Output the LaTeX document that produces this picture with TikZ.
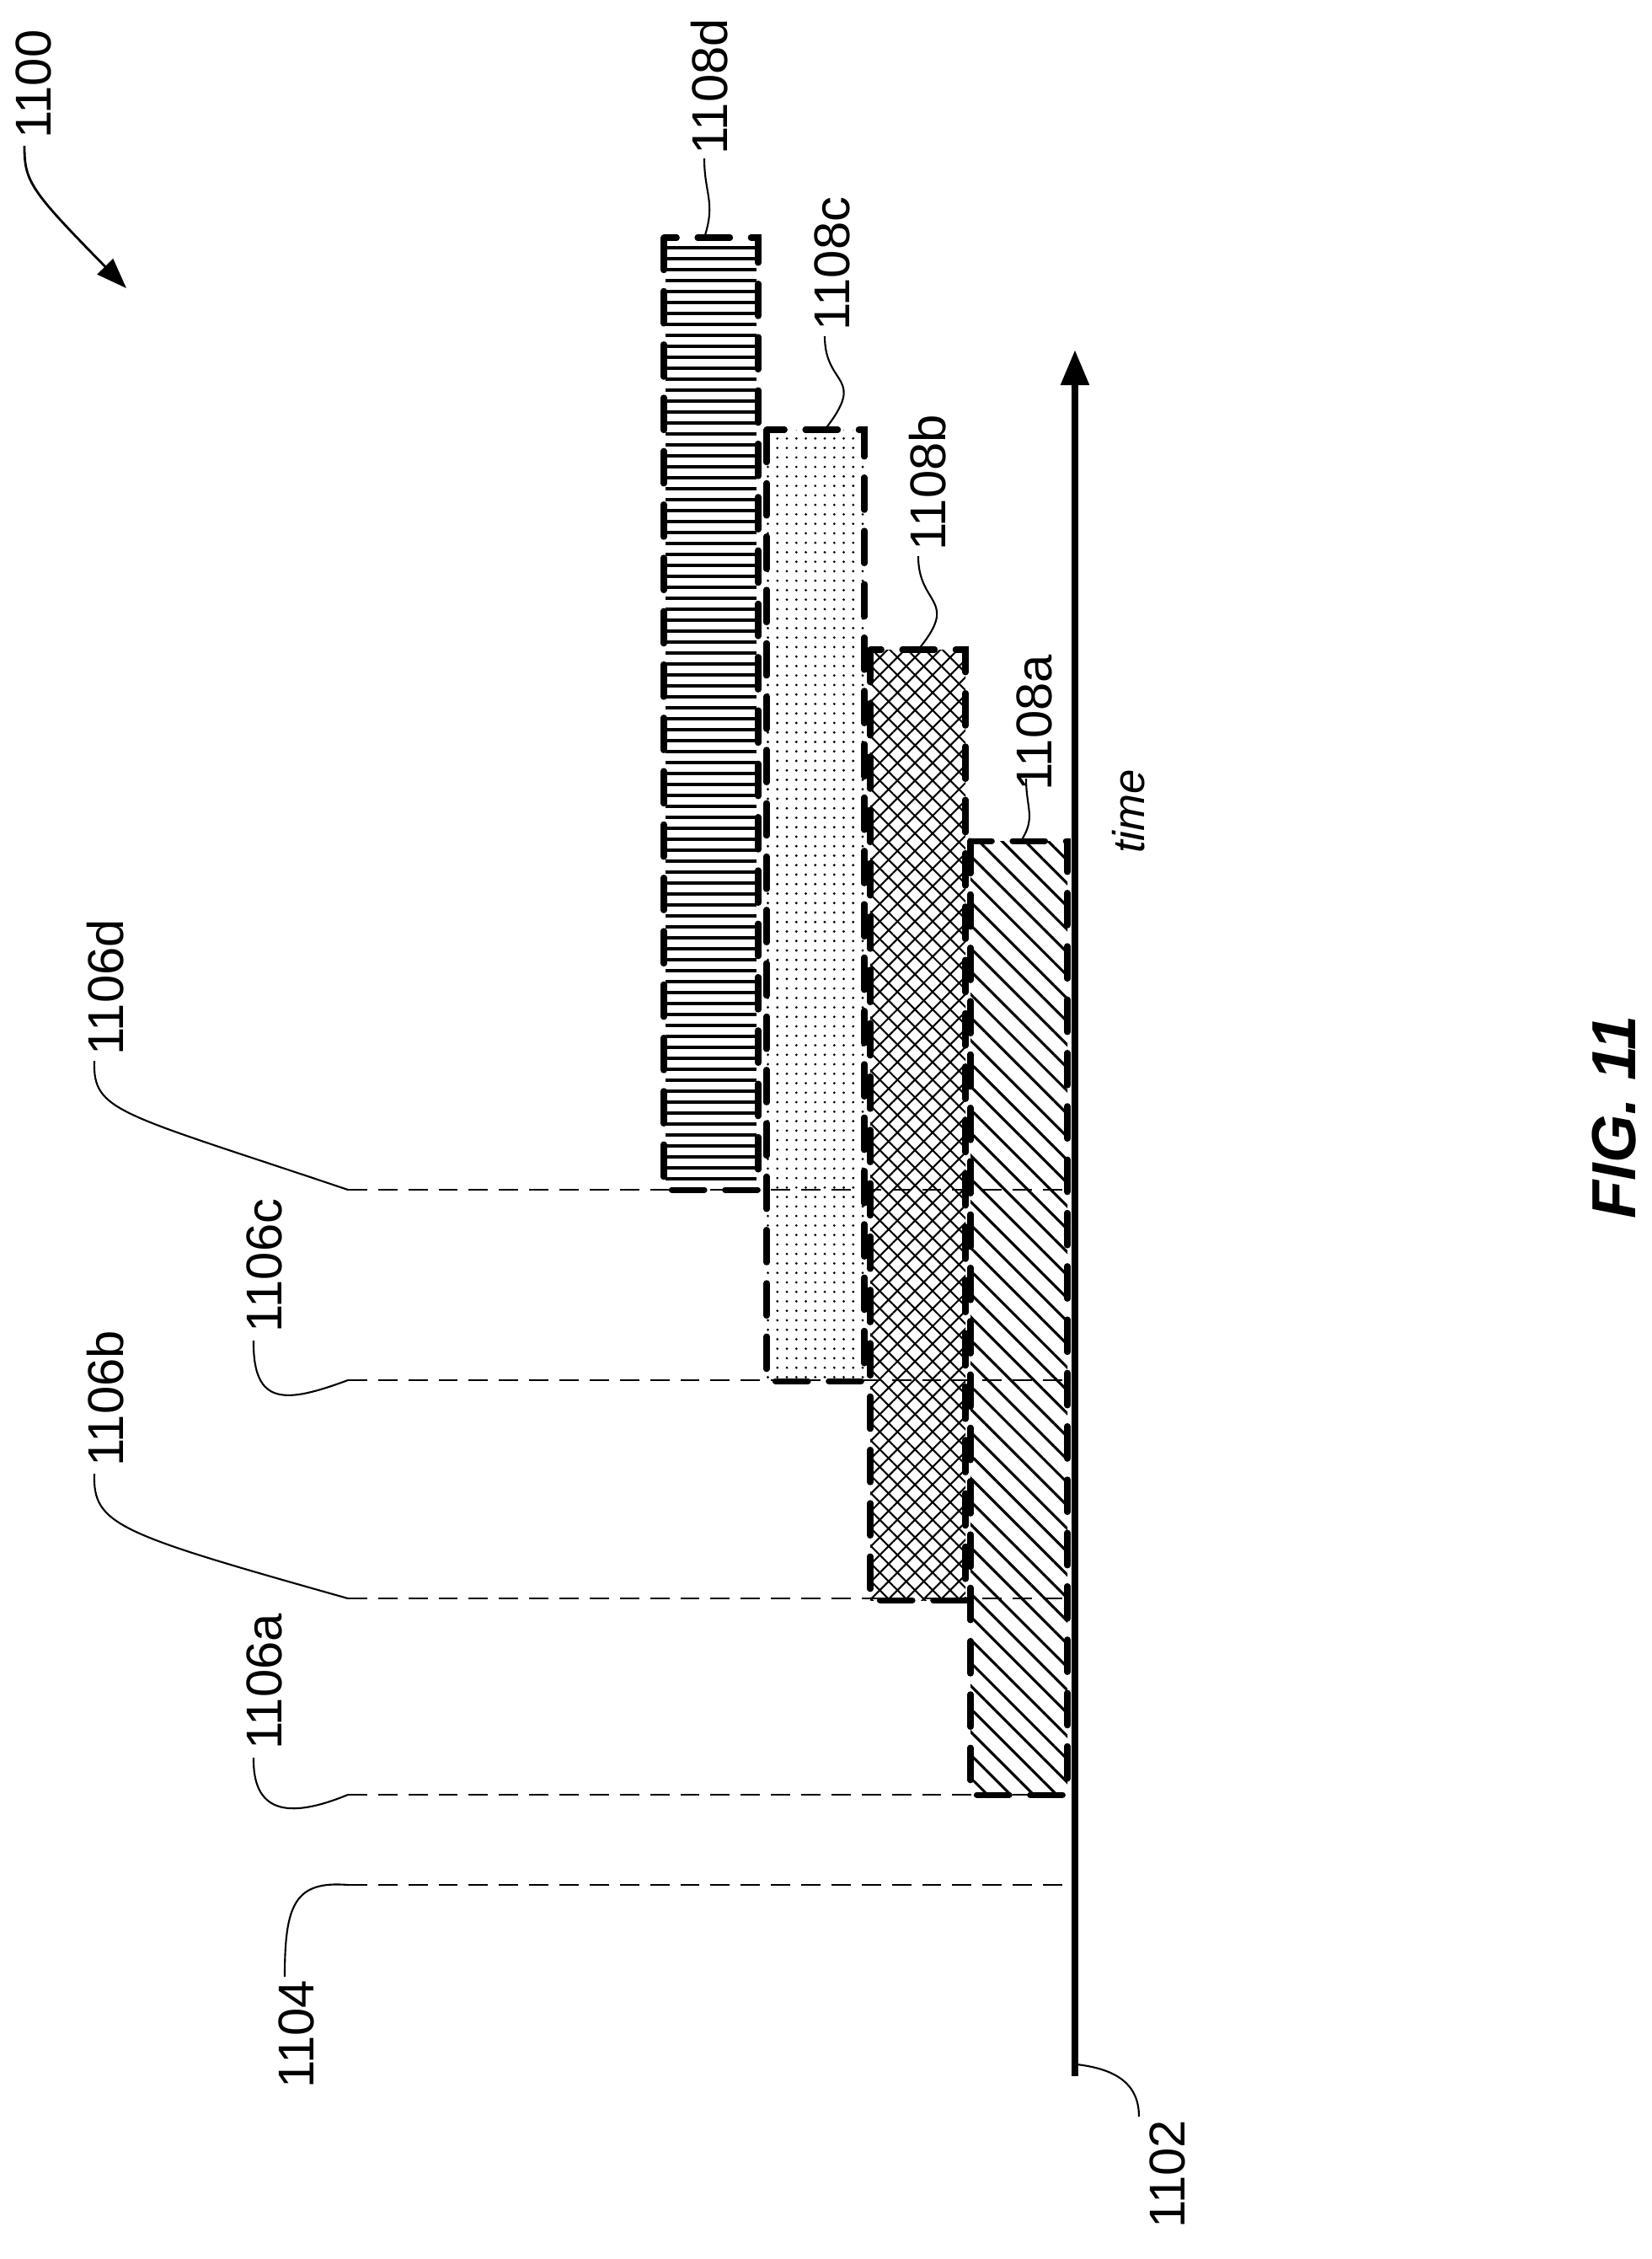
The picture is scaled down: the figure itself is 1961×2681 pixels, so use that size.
\documentclass[tikz,border=0pt]{standalone}
\usepackage{fontspec}
\setmainfont{Liberation Sans}
\usetikzlibrary{arrows.meta,patterns.meta}
\begin{document}
\begin{tikzpicture}[x=0.01cm,y=-0.01cm,
  lbl/.style={font=\fontsize{17}{19}\selectfont,rotate=90,inner sep=0},
  leader/.style={line width=0.6pt},
  guide/.style={line width=0.8pt,dash pattern=on 6.5pt off 3.7pt},
  border/.style={line width=2pt,dash pattern=on 11pt off 7pt,line cap=round}]
\useasboundingbox (0,0) rectangle (1961,2681);
% fills
\fill[pattern={Lines[angle=-45,distance=5.5pt,line width=0.9pt]}] (1152,998) rectangle (1267,2130);
\fill[pattern={Lines[angle=45,distance=4.2pt,line width=0.6pt]}] (1033,771) rectangle (1146,1899);
\fill[pattern={Lines[angle=-45,distance=4.2pt,line width=0.6pt]}] (1033,771) rectangle (1146,1899);
\fill[pattern={Dots[distance=3.2pt,radius=0.45pt]}] (910,510) rectangle (1026,1639);
\foreach \yy in {294,307,...,1405} \draw[line width=1.2pt] (790,\yy) -- (898,\yy);
% guide lines
\coordinate (g104) at (413,2237);
\coordinate (g6a) at (413,2130);
\coordinate (g6b) at (413,1897);
\coordinate (g6c) at (413,1638);
\coordinate (g6d) at (413,1412);
\foreach \c/\yy in {g104/2237,g6a/2130,g6b/1897,g6c/1638,g6d/1412}
  \draw[guide] (\c) -- (1272,\yy);
% borders
\draw[border] (1152,998) rectangle (1267,2130);
\draw[border] (1033,771) rectangle (1146,1899);
\draw[border] (910,510) rectangle (1026,1639);
\draw[border] (788,282) rectangle (900,1412);
% axis
\coordinate (axb) at (1276,2464);
\coordinate (axt) at (1276,415);
\draw[line width=2.4pt,-{Triangle[length=0.42cm,width=0.32cm]}] (axb) -- (axt);
\node[lbl,font=\fontsize{15}{17}\selectfont\itshape] (time) at (1340,963) {time};
% labels
\node[lbl] (l1104) at (352,2414) {1104};
\node[lbl] (l6a) at (314,1996) {1106a};
\node[lbl] (l6b) at (125,1660) {1106b};
\node[lbl] (l6c) at (314,1502) {1106c};
\node[lbl] (l6d) at (125,1172) {1106d};
\draw[leader] (338,2346) .. controls (338,2260) and (350,2232) .. (g104);
\draw[leader] (301,2086) .. controls (300,2150) and (340,2160) .. (g6a);
\draw[leader] (112,1749) .. controls (110,1810) and (140,1820) .. (g6b);
\draw[leader] (301,1591) .. controls (300,1670) and (340,1665) .. (g6c);
\draw[leader] (112,1259) .. controls (110,1320) and (140,1320) .. (g6d);
% top labels
\node[lbl] (l8d) at (842,103) {1108d};
\node[lbl] (l8c) at (988,313) {1108c};
\node[lbl] (l8b) at (1101,573) {1108b};
\node[lbl] (l8a) at (1228,858) {1108a};
\draw[leader] (836,188) .. controls (836,230) and (850,240) .. (836,282);
\draw[leader] (979,399) .. controls (979,460) and (1030,445) .. (979,510);
\draw[leader] (1090,660) .. controls (1090,720) and (1140,710) .. (1090,771);
\draw[leader] (1218,924) .. controls (1218,960) and (1230,970) .. (1212,998);
\node[lbl] (l1102) at (1386,2580) {1102};
\draw[leader] (1352,2512) .. controls (1352,2470) and (1320,2455) .. (1278,2450);
\node[lbl] (l1100) at (40,100) {1100};
\coordinate (t1100) at (150,342);
\draw[leader,line width=0.8pt,-{Triangle[length=0.36cm,width=0.26cm]}] (29,173) .. controls (29,215) and (35,225) .. (t1100);
\node[rotate=90,font=\fontsize{21}{24}\selectfont\bfseries\itshape] (fig) at (1916,1326) {FIG. 11};
\end{tikzpicture}
\end{document}
